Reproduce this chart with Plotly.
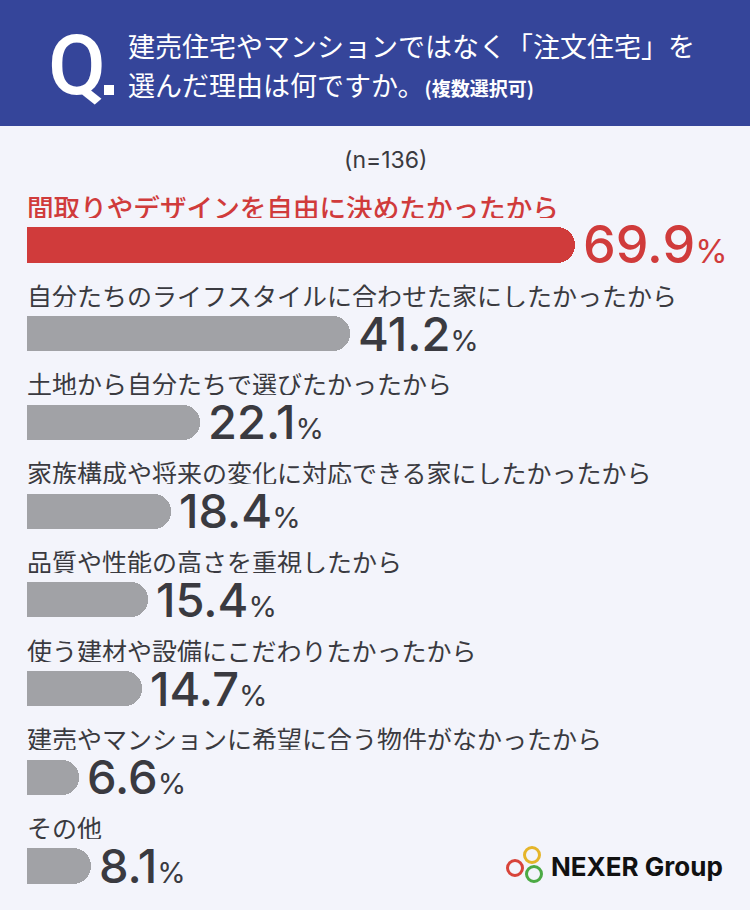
import plotly.graph_objects as go

# ---------------- data ----------------
categories = [
    "間取りやデザインを自由に決めたかったから",
    "自分たちのライフスタイルに合わせた家にしたかったから",
    "土地から自分たちで選びたかったから",
    "家族構成や将来の変化に対応できる家にしたかったから",
    "品質や性能の高さを重視したから",
    "使う建材や設備にこだわりたかったから",
    "建売やマンションに希望に合う物件がなかったから",
    "その他",
]
values = [69.9, 41.2, 22.1, 18.4, 15.4, 14.7, 6.6, 8.1]
title_line1 = "建売住宅やマンションではなく「注文住宅」を"
title_line2 = "選んだ理由は何ですか。"
title_note = "(複数選択可)"
sample_note = "(n=136)"
brand = "NEXER Group"

# ---------------- style ----------------
W, H = 750, 910
RED = "#d03b3b"
GRAY = "#a1a2a6"
TEXT = "#3a3a40"
NAVY = "#35459a"
BG = "#f3f4fb"
JP = "Noto Sans CJK JP"
NUM = "Inter, Roboto, sans-serif"

colors = [RED if i == 0 else GRAY for i in range(len(values))]
label_colors = [RED if i == 0 else TEXT for i in range(len(values))]


def px(x):
    return x / W


def py(y):
    return 1 - y / H


fig = go.Figure()
# rounded bars
fig.add_trace(go.Bar(
    y=categories, x=values, orientation="h", width=0.395,
    marker=dict(color=colors, cornerradius=18, line_width=0),
    hoverinfo="skip", showlegend=False,
))
# square the left ends
fig.add_trace(go.Bar(
    y=categories, x=[v / 2 for v in values], orientation="h", width=0.395,
    marker=dict(color=colors, line_width=0),
    hoverinfo="skip", showlegend=False,
))

annotations = []
for i, (c, v) in enumerate(zip(categories, values)):
    first = i == 0
    annotations.append(dict(
        x=0, y=c, xref="x", yref="y", text=c, showarrow=False,
        xanchor="left", yanchor="middle", yshift=39, xshift=-2, height=24,
        font=dict(family=JP, size=26.6 if first else 25,
                  color=label_colors[i], weight=500 if first else 400),
    ))
    big = 52 if first else 47
    small = 33 if first else 29
    annotations.append(dict(
        x=v, y=c, xref="x", yref="y",
        text=f"{v}<span style='font-size:{small}px;font-weight:400'>%</span>",
        showarrow=False, xanchor="left", yanchor="middle", xshift=6, yshift=1,
        height=38,
        font=dict(family=NUM, size=big, color=RED if first else TEXT, weight=500),
    ))

# header texts
annotations += [
    dict(x=px(46), y=py(66), xref="paper", yref="paper", text="Q",
         showarrow=False, xanchor="left", yanchor="middle",
         font=dict(family="Roboto", size=84, color="white", weight=500)),
    dict(x=px(126), y=py(45), xref="paper", yref="paper", text=title_line1,
         showarrow=False, xanchor="left", yanchor="middle",
         font=dict(family=JP, size=27, color="white", weight=400)),
    dict(x=px(126), y=py(84), xref="paper", yref="paper",
         text=f"{title_line2}<span style='font-size:19px;font-weight:bold'>{title_note}</span>",
         showarrow=False, xanchor="left", yanchor="middle",
         font=dict(family=JP, size=27, color="white", weight=400)),
    dict(x=px(385), y=py(160), xref="paper", yref="paper", text=sample_note,
         showarrow=False, xanchor="center", yanchor="middle",
         font=dict(family=NUM, size=23, color=TEXT)),
    dict(x=px(549), y=py(866), xref="paper", yref="paper", text=brand,
         showarrow=False, xanchor="left", yanchor="middle",
         font=dict(family=NUM, size=26, color="#111111", weight=700)),
]

shapes = [
    dict(type="rect", xref="paper", yref="paper", x0=0, x1=1, y0=py(126), y1=1,
         fillcolor=NAVY, line_width=0, layer="below"),
    # square dot of "Q."
    dict(type="rect", xref="paper", yref="paper", x0=px(104), x1=px(114),
         y0=py(95), y1=py(85), fillcolor="white", line_width=0),
]
for cx, cy, col in [(532, 855, "#e5b52a"), (515, 868, "#d8443a"), (534, 874, "#4caa44")]:
    r = 7.5
    shapes.append(dict(type="circle", xref="paper", yref="paper",
                       x0=px(cx - r), x1=px(cx + r), y0=py(cy + r), y1=py(cy - r),
                       line=dict(color=col, width=3), fillcolor="rgba(0,0,0,0)"))

x_scale = 548 / 69.9  # px per percentage point
row = (866 - 245) / 7
fig.update_layout(
    width=W, height=H,
    margin=dict(l=0, r=0, t=0, b=0),
    paper_bgcolor=BG, plot_bgcolor=BG,
    barmode="overlay",
    bargap=0,
    xaxis=dict(range=[-27 / x_scale, (W - 27) / x_scale], visible=False, fixedrange=True),
    yaxis=dict(type="category", categoryorder="array", categoryarray=categories,
               range=[(H - 245) / row, -245 / row], visible=False, fixedrange=True),
    annotations=annotations,
    shapes=shapes,
    showlegend=False,
)

fig.write_html(
    "out.html",
    config={"displayModeBar": False},
    post_script="document.body.style.margin='0';document.body.style.padding='0';",
)
